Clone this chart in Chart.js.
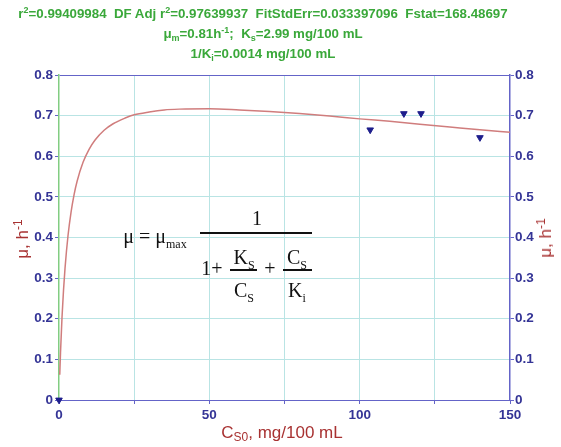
<!DOCTYPE html>
<html lang="en">
<head>
<meta charset="UTF-8">
<title>Specific growth rate vs substrate</title>
<script src="https://cdn.jsdelivr.net/npm/chart.js"></script>
<style>
    body { margin: 0; background: #fff; }
    #wrap { position: relative; width: 561px; height: 447px; }
    canvas { position: absolute; left: 0; top: 0; }
    .t { position: absolute; left: 0; width: 526px; text-align: center; color: #3aa83a;
         font: bold 13.3px "Liberation Sans", Arial, sans-serif; line-height: 14px; white-space: nowrap; }
    .t sup, .t sub { font-size: 9px; line-height: 0; position: relative; vertical-align: baseline; }
    .t sup { top: -5px; }
    .t sub { top: 3px; }
    .lab { position: absolute; color: #a83232; font: 17px "Liberation Sans", Arial, sans-serif;
           white-space: nowrap; transform: translate(-50%, -50%); line-height: 18px; }
    .lab sup, .lab sub { font-size: 12px; line-height: 0; position: relative; vertical-align: baseline; }
    .lab sup { top: -6px; }
    .lab sub { top: 3px; }
    .rot { transform: translate(-50%, -50%) rotate(-90deg); }
    .eq { position: absolute; transform: translate(-50%, -50%); color: #111;
          font: 20px "Liberation Serif", "Times New Roman", serif; line-height: 20px; white-space: nowrap; }
    .eq sub { font-size: 12px; line-height: 0; position: relative; vertical-align: baseline; top: 5px; }
    .bar { position: absolute; height: 1.5px; background: #111; }
</style>
</head>
<body>
<div id="wrap">
    <canvas id="myChart" width="561" height="447"></canvas>

    <div class="t" style="top:7px">r<sup>2</sup>=0.99409984&nbsp; DF Adj r<sup>2</sup>=0.97639937&nbsp; FitStdErr=0.033397096&nbsp; Fstat=168.48697</div>
    <div class="t" style="top:27px">&mu;<sub>m</sub>=0.81h<sup>-1</sup>;&nbsp; K<sub>s</sub>=2.99 mg/100 mL</div>
    <div class="t" style="top:47px">1/K<sub>i</sub>=0.0014 mg/100 mL</div>

    <div class="lab rot" style="left:23px; top:239px">&mu;, h<sup>-1</sup></div>
    <div class="lab rot" style="left:546px; top:238px">&mu;, h<sup>-1</sup></div>
    <div class="lab" style="left:282px; top:433px">C<sub>S0</sub>, mg/100 mL</div>

    <!-- Haldane equation -->
    <div class="eq" style="left:155px; top:236px">&mu; = &mu;<sub>max</sub></div>
    <div class="bar" style="left:200px; top:232px; width:112px"></div>
    <div class="eq" style="left:257px; top:218px">1</div>
    <div class="eq" style="left:212px; top:268px">1+</div>
    <div class="eq" style="left:244px; top:257px">K<sub>S</sub></div>
    <div class="bar" style="left:230px; top:269px; width:27px"></div>
    <div class="eq" style="left:244px; top:290px">C<sub>S</sub></div>
    <div class="eq" style="left:270px; top:268px">+</div>
    <div class="eq" style="left:297px; top:257px">C<sub>S</sub></div>
    <div class="bar" style="left:283px; top:269px; width:29px"></div>
    <div class="eq" style="left:297px; top:290px">K<sub>i</sub></div>
</div>

<script>
    // measured points (Cs0, mu)
    var obsX = [0, 103.5, 114.7, 120.4, 140];
    var obsY = [0, 0.665, 0.705, 0.705, 0.646];

    // fitted curve
    var fitX = [0.25, 0.5, 1, 1.5, 2, 3, 4, 5, 6, 8, 10, 12, 15, 18, 22, 25, 30, 35, 40, 50,
                60, 70, 80, 90, 100, 110, 120, 130, 140, 150];
    var fitY = [0.062, 0.116, 0.203, 0.270, 0.324, 0.405, 0.462, 0.505, 0.538, 0.585, 0.617, 0.640,
                0.664, 0.680, 0.694, 0.702, 0.709, 0.714, 0.716, 0.717,
                0.714, 0.710, 0.705, 0.699, 0.692, 0.686, 0.679, 0.672, 0.665, 0.659];

    var xTicks = [0, 50, 100, 150];

    var blue = 'rgb(100,100,200)';
    var tickBlue = 'rgb(52,52,150)';
    var gridCyan = 'rgb(185,228,228)';
    var tickFont = { family: '"Liberation Sans", Arial, sans-serif', size: 13.5, weight: 'bold' };

    function fmtY(v) {
        return v === 0 ? '0' : v.toFixed(1);
    }

    var ctx = document.getElementById('myChart').getContext('2d');
    var myChart = new Chart(ctx, {
        type: 'line',
        data: {
            datasets: [{
                label: 'Fit',
                data: fitX.map((x, i) => ({ x: x, y: fitY[i] })),
                borderColor: 'rgb(208,125,125)',
                borderWidth: 1.5,
                pointRadius: 0,
                cubicInterpolationMode: 'monotone',
                fill: false
            },
            {
                label: 'Data',
                type: 'scatter',
                data: obsX.map((x, i) => ({ x: x, y: obsY[i] })),
                pointStyle: 'triangle',
                rotation: 180,
                radius: 3.8,
                backgroundColor: 'rgb(30,30,140)',
                borderColor: 'rgb(30,30,140)',
                borderWidth: 1,
                clip: false
            }]
        },
        options: {
            responsive: false,
            animation: false,
            devicePixelRatio: 1,
            layout: { padding: { top: 75, left: 0, right: 0, bottom: 0 } },
            plugins: { legend: { display: false }, tooltip: { enabled: false } },
            scales: {
                x: {
                    type: 'linear',
                    min: 0,
                    max: 150,
                    afterFit: s => { s.height = 47; },
                    ticks: {
                        stepSize: 25,
                        autoSkip: false,
                        maxRotation: 0,
                        padding: 3,
                        color: tickBlue,
                        font: tickFont,
                        callback: v => xTicks.includes(v) ? String(v) : ''
                    },
                    grid: {
                        color: c => (c.tick && (c.tick.value === 0 || c.tick.value === 150)) ? 'rgba(0,0,0,0)' : gridCyan,
                        tickColor: blue,
                        tickLength: 4
                    },
                    border: { color: blue, width: 1 }
                },
                y: {
                    position: 'left',
                    min: 0,
                    max: 0.8,
                    afterFit: s => { s.width = 59; },
                    ticks: { stepSize: 0.1, padding: 2, color: tickBlue, font: tickFont, callback: fmtY },
                    grid: {
                        color: c => {
                            if (!c.tick) return gridCyan;
                            if (Math.abs(c.tick.value - 0.8) < 1e-9) return blue;
                            if (c.tick.value === 0) return 'rgba(0,0,0,0)';
                            return gridCyan;
                        },
                        tickColor: blue,
                        tickLength: 4
                    },
                    border: { color: 'rgb(130,205,130)', width: 1.5 }
                },
                y2: {
                    position: 'right',
                    min: 0,
                    max: 0.8,
                    afterFit: s => { s.width = 51; },
                    ticks: { stepSize: 0.1, padding: 1, color: tickBlue, font: tickFont, callback: fmtY },
                    grid: { drawOnChartArea: false, tickColor: blue, tickLength: 4 },
                    border: { color: blue, width: 1.5 }
                }
            }
        }
    });
</script>
</body>
</html>
